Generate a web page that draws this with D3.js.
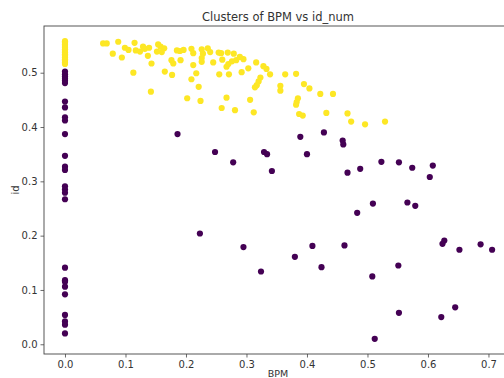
<!DOCTYPE html>
<html>
<head>
<meta charset="utf-8">
<script src="https://cdn.jsdelivr.net/npm/d3@7"></script>
<style>
  html, body { margin: 0; padding: 0; background: #fff; }
  svg { display: block; font-family: "DejaVu Sans", sans-serif; }
</style>
</head>
<body>
<div id="chart"></div>
<script>
// cluster 1 (yellow): [BPM, id]
const yellowZero = [0.558, 0.555, 0.552, 0.549, 0.546, 0.543, 0.540, 0.537, 0.534, 0.531, 0.528, 0.525, 0.522, 0.519, 0.516];
const yellowPts = [
  [0.063, 0.554], [0.069, 0.554], [0.088, 0.557], [0.079, 0.535], [0.094, 0.528],
  [0.099, 0.546], [0.105, 0.542], [0.115, 0.555], [0.117, 0.541], [0.124, 0.539],
  [0.129, 0.548], [0.132, 0.544], [0.139, 0.546], [0.137, 0.531], [0.154, 0.552],
  [0.158, 0.548], [0.164, 0.545], [0.152, 0.539], [0.160, 0.538], [0.143, 0.517],
  [0.113, 0.500], [0.142, 0.465], [0.165, 0.502], [0.176, 0.523], [0.179, 0.517],
  [0.177, 0.496], [0.185, 0.541], [0.190, 0.540], [0.196, 0.542], [0.191, 0.523],
  [0.209, 0.544], [0.212, 0.536], [0.212, 0.514], [0.217, 0.499], [0.209, 0.488],
  [0.221, 0.474], [0.202, 0.453], [0.226, 0.543], [0.226, 0.527], [0.226, 0.520],
  [0.236, 0.545], [0.240, 0.538], [0.228, 0.535], [0.254, 0.537], [0.258, 0.536],
  [0.269, 0.537], [0.279, 0.535], [0.245, 0.519], [0.260, 0.524], [0.276, 0.521],
  [0.283, 0.523], [0.289, 0.529], [0.295, 0.525], [0.267, 0.511], [0.270, 0.516],
  [0.255, 0.497], [0.271, 0.497], [0.292, 0.501], [0.303, 0.508], [0.316, 0.519],
  [0.328, 0.512], [0.333, 0.507], [0.339, 0.497], [0.323, 0.491], [0.320, 0.484],
  [0.317, 0.477], [0.314, 0.473], [0.364, 0.497], [0.382, 0.498], [0.356, 0.476],
  [0.356, 0.467], [0.395, 0.479], [0.404, 0.471], [0.422, 0.461], [0.443, 0.461],
  [0.385, 0.453], [0.383, 0.446], [0.382, 0.441], [0.387, 0.424], [0.393, 0.421],
  [0.432, 0.426], [0.467, 0.425], [0.473, 0.410], [0.496, 0.405], [0.529, 0.410],
  [0.224, 0.448], [0.267, 0.454], [0.306, 0.450], [0.259, 0.435], [0.281, 0.431],
  [0.312, 0.427]
];
// cluster 0 (purple)
const purpleZero = [0.502, 0.497, 0.493, 0.489, 0.485, 0.481, 0.447, 0.436, 0.418, 0.412, 0.387,
  0.347, 0.327, 0.321, 0.291, 0.285, 0.279, 0.267, 0.141, 0.118, 0.115, 0.106, 0.092,
  0.054, 0.042, 0.036, 0.020];
const purplePts = [
  [0.186, 0.387], [0.248, 0.354], [0.278, 0.335], [0.329, 0.354], [0.334, 0.350],
  [0.342, 0.319], [0.389, 0.382], [0.400, 0.350], [0.428, 0.390], [0.223, 0.204],
  [0.295, 0.179], [0.409, 0.181], [0.380, 0.161], [0.324, 0.134], [0.424, 0.142],
  [0.459, 0.375], [0.460, 0.368], [0.467, 0.316], [0.488, 0.323], [0.523, 0.336],
  [0.552, 0.335], [0.574, 0.325], [0.608, 0.329], [0.603, 0.308], [0.483, 0.242],
  [0.509, 0.259], [0.566, 0.261], [0.579, 0.255], [0.462, 0.182], [0.627, 0.191],
  [0.624, 0.185], [0.652, 0.174], [0.687, 0.184], [0.706, 0.174], [0.508, 0.125],
  [0.551, 0.145], [0.552, 0.058], [0.512, 0.010], [0.622, 0.050], [0.645, 0.068]
];
const xTicks = [0.0, 0.1, 0.2, 0.3, 0.4, 0.5, 0.6, 0.7];
const yTicks = [0.0, 0.1, 0.2, 0.3, 0.4, 0.5];

const W = 504, H = 378;
// right spine sits just past the window edge, like the reference crop
const margin = { left: 44, top: 26, right: -8, bottom: 24 };

const svg = d3.select('#chart').append('svg')
  .attr('width', W).attr('height', H);

const x = d3.scaleLinear().domain([-0.0347, 0.7389]).range([margin.left, W - margin.right]);
const y = d3.scaleLinear().domain([-0.0179, 0.586]).range([H - margin.bottom, margin.top]);

const purple = '#440154'; // viridis ends
const yellow = '#fde725';

const data = [
  ...purpleZero.map(v => ({ x: 0, y: v, c: 0 })),
  ...purplePts.map(d => ({ x: d[0], y: d[1], c: 0 })),
  ...yellowZero.map(v => ({ x: 0, y: v, c: 1 })),
  ...yellowPts.map(d => ({ x: d[0], y: d[1], c: 1 }))
];

svg.append('g').selectAll('circle')
  .data(data)
  .join('circle')
  .attr('cx', d => x(d.x))
  .attr('cy', d => y(d.y))
  .attr('r', 3.1)
  .attr('fill', d => d.c ? yellow : purple);

// axes
const ax = svg.append('g')
  .attr('transform', `translate(0,${H - margin.bottom})`)
  .call(d3.axisBottom(x).tickValues(xTicks).tickFormat(d3.format('.1f')).tickSizeOuter(0).tickSize(3.5).tickPadding(3));
const ay = svg.append('g')
  .attr('transform', `translate(${margin.left},0)`)
  .call(d3.axisLeft(y).tickValues(yTicks).tickFormat(d3.format('.1f')).tickSizeOuter(0).tickSize(3.5).tickPadding(3));

[ax, ay].forEach(g => {
  g.select('.domain').remove();
  g.selectAll('line').attr('stroke', '#444').attr('stroke-width', 0.8);
  g.selectAll('text').attr('fill', '#333').style('font-size', '10px').style('font-family', '"DejaVu Sans", sans-serif');
});

// frame
svg.append('rect')
  .attr('x', margin.left).attr('y', margin.top)
  .attr('width', x.range()[1] - margin.left)
  .attr('height', y.range()[0] - margin.top)
  .attr('fill', 'none').attr('stroke', '#444').attr('stroke-width', 0.9);

svg.append('text')
  .attr('x', 278).attr('y', 21)
  .attr('text-anchor', 'middle')
  .attr('fill', '#333')
  .style('font-size', '11.5px')
  .text('Clusters of BPM vs id_num');

svg.append('text')
  .attr('x', 278).attr('y', 377)
  .attr('text-anchor', 'middle')
  .attr('fill', '#333')
  .style('font-size', '9.5px')
  .text('BPM');

svg.append('text')
  .attr('transform', 'translate(19,190) rotate(-90)')
  .attr('text-anchor', 'middle')
  .attr('fill', '#333')
  .style('font-size', '10px')
  .text('id');
</script>
</body>
</html>
